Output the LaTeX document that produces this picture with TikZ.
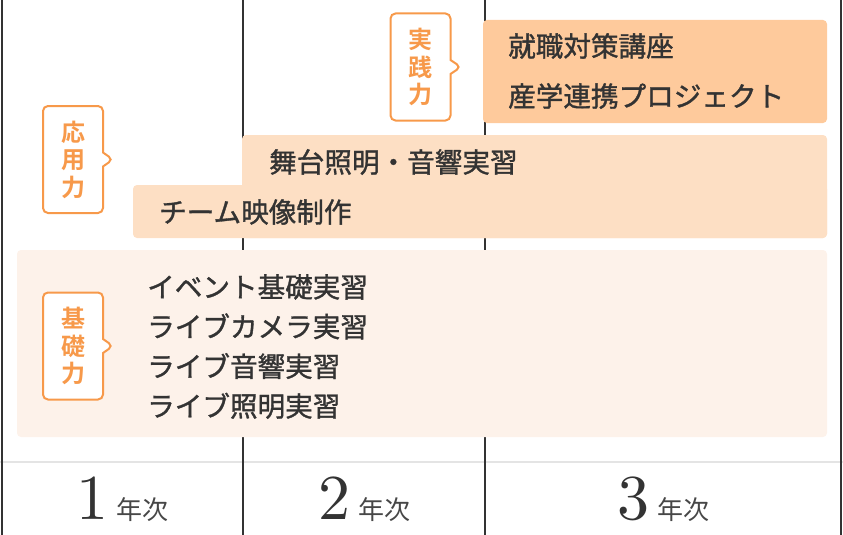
\documentclass[tikz,border=0pt]{standalone}
\usepackage{fontspec}
\newfontfamily\jp[BoldFont={Noto Sans CJK JP Bold}]{Noto Sans CJK JP}
\newfontfamily\jpm[RawFeature={embolden=1.2}]{Noto Sans CJK JP}
\newfontfamily\digits{lmroman10-regular.otf}
\usetikzlibrary{shapes.callouts}
\definecolor{ink}{HTML}{333333}
\definecolor{rule}{HTML}{E4E4E4}
\definecolor{accent}{HTML}{F7994A}
\definecolor{basic}{HTML}{FDF2EA}
\definecolor{applied}{HTML}{FDDFC4}
\definecolor{practice}{HTML}{FECA9C}
\tikzset{
      divider/.style = { line width=2pt, ink },
      floor/.style   = { line width=2pt, rule },
      band/.style    = { rounded corners=4pt },
      notice/.style  = { draw=accent, fill=white, line width=2pt, rounded corners=5pt,
                         rectangle callout, callout absolute pointer={#1},
                         callout pointer width=14pt, minimum width=60pt, minimum height=107pt,
                         inner sep=0pt, align=center, text=accent,
                         font=\jp\bfseries\fontsize{24}{27.5}\selectfont },
      course/.style  = { anchor=west, inner sep=0pt, align=left, text=ink,
                         font=\jpm\fontsize{27.6}{39.7}\selectfont },
      grade/.style   = { anchor=base, inner sep=0pt, text=ink }
    }

\begin{document}
\begin{tikzpicture}[x=1pt,y=-1pt]
      \useasboundingbox (0,0) rectangle (843,535);

      % Grid of years
      \draw[floor] (0,462) -- (843,462);
      \foreach \x in {2,243,485,841} {
        \draw[divider] (\x,0) -- (\x,535);
      }

      % Draw all bands
      \fill[basic, band]    (17,250)  rectangle (827,437);
      \fill[applied, band]  (242,135) rectangle (827,238);
      \fill[applied, band]  (133,185) rectangle (827,238);
      \fill[practice, band] (483,20)  rectangle (827,123);

      % Draw annotations
      \node[notice={(461,67)}]    (practical) at (420.5,67)  {実\\践\\力};
      \node[notice={(113,159.5)}] (applied)   at (73,159.5)  {応\\用\\力};
      \node[notice={(113,346)}]   (basics)    at (73,346)    {基\\礎\\力};

      % Draw courses
      \node[course] (job)      at (508,46)  {就職対策講座};
      \node[course] (industry) at (508,96)  {産学連携プロジェクト};
      \node[course] (stage)    at (269,162) {舞台照明・音響実習};
      \node[course] (movie)    at (159,212) {チーム映像制作};
      \node[course] (live)     at (147,346.5)
        {イベント基礎実習\\ライブカメラ実習\\ライブ音響実習\\ライブ照明実習};

      % Draw years
      \foreach \n/\x in {1/122, 2/364, 3/663} {
        \node[grade] (year\n) at (\x,519)
          {{\digits\fontsize{64}{64}\selectfont \n}\hspace{8pt}{\color{ink!90}\jp\fontsize{26}{26}\selectfont 年次}};
      }
\end{tikzpicture}
\end{document}
